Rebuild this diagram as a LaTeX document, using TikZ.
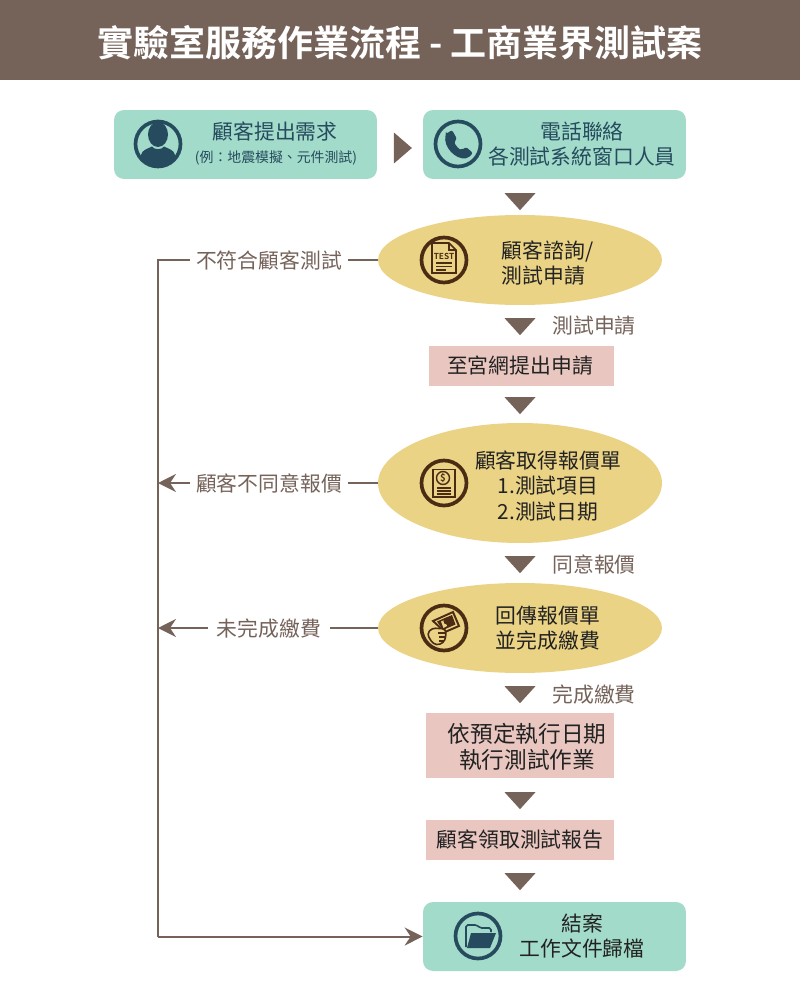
\documentclass[tikz,border=0pt]{standalone}
\usepackage{fontspec}
\setmainfont{Noto Sans CJK TC}[BoldFont={Noto Sans CJK TC Bold}]
\usepackage{tikz}
\usetikzlibrary{shapes,arrows.meta}
\definecolor{brown1}{HTML}{75635A}
\definecolor{teal1}{HTML}{264B5E}
\definecolor{green1}{HTML}{A2DBC9}
\definecolor{yellow1}{HTML}{EBD385}
\definecolor{pink1}{HTML}{E9C7C0}
\definecolor{dark1}{HTML}{4A2C14}
\definecolor{ink1}{HTML}{222222}
\tikzset{every path/.style={>={Stealth[length=3.6mm,width=3.6mm,inset=1.2mm]}}}
\tikzset{grn/.style={rectangle,rounded corners=0.2cm,fill=green1,minimum width=5.26cm,minimum height=1.38cm,inner sep=0pt}}
\tikzset{yel/.style={ellipse,fill=yellow1,minimum width=5.68cm,inner sep=0pt}}
\tikzset{pnk/.style={rectangle,fill=pink1,inner sep=0pt}}
\tikzset{txt/.style={align=center,inner sep=0pt,font=\fontsize{11.85}{14.4}\selectfont,text=ink1}}
\tikzset{lab/.style={inner xsep=3.4pt,inner ysep=0pt,text height=10.2pt,text depth=0pt,font=\fontsize{11.85}{14}\selectfont,text=brown1}}
\tikzset{tri/.style={isosceles triangle,isosceles triangle stretches,shape border rotate=-90,fill=brown1,inner sep=0pt,minimum width=0.62cm,minimum height=0.34cm}}
\tikzset{ring/.style={circle,draw=#1,line width=2.1pt,minimum size=0.9cm,inner sep=0pt}}
\tikzset{rline/.style={draw=brown1,line width=1.15pt}}
\begin{document}
\begin{tikzpicture}[x=0.02cm,y=-0.02cm]
\useasboundingbox (0,0) rectangle (800,1000);
% title
\node[rectangle,fill=brown1,minimum width=16cm,minimum height=1.6cm,inner sep=0pt,text=white,text height=19pt,text depth=0pt,font=\bfseries\fontsize{20.5}{24}\selectfont](title) at (400,40) {實驗室服務作業流程 - 工商業界測試案};

\node[grn](need) at (245.5,144.5) {};
\node[grn](phone) at (554.5,144.5) {};
\node[tri,shape border rotate=0,minimum width=0.62cm,minimum height=0.36cm](t0) at (401,148) {};
\node[tri](t1) at (520,200) {};
\node[yel,minimum height=1.8cm](ask) at (520,260) {};
\node[tri](t2) at (520,325) {};
\node[pnk,minimum width=3.7cm,minimum height=0.8cm](apply) at (521.5,366) {};
\node[tri](t3) at (520,404) {};
\node[yel,minimum height=2.4cm](quote) at (520,483) {};
\node[tri](t4) at (520,563) {};
\node[yel,minimum height=1.8cm](pay) at (520,628) {};
\node[tri](t5) at (520,693) {};
\node[pnk,minimum width=3.76cm,minimum height=1.3cm](run) at (520,745.5) {};
\node[tri](t6) at (520,799) {};
\node[pnk,minimum width=3.76cm,minimum height=0.8cm](report) at (520,840) {};
\node[tri](t7) at (520,880) {};
\node[grn](done) at (554.5,936.5) {};

% texts
\node[txt,text=teal1](needt) at (275,132) {顧客提出需求};
\node[txt,text=teal1,font=\fontsize{7.9}{9}\selectfont](needs) at (276,158) {(例：地震模擬、元件測試)};
\node[txt,text=teal1](phonet) at (582,144) {電話聯絡\\各測試系統窗口人員};
\node[txt,align=left](askt) at (547.5,263) {顧客諮詢/\\測試申請};
\node[txt](applyt) at (520,366) {至宮網提出申請};
\node[txt](quotet) at (548,486) {顧客取得報價單\\1.測試項目\\2.測試日期};
\node[txt](payt) at (548,628) {回傳報價單\\並完成繳費};
\node[txt,font=\fontsize{12.9}{14.4}\selectfont](runt) at (527,747) {依預定執行日期\\執行測試作業};
\node[txt](reportt) at (520,840) {顧客領取測試報告};
\node[txt](donet) at (582,936) {結案\\工作文件歸檔};
\node[lab](yes1) at (594,325) {測試申請};
\node[lab](yes2) at (594,564) {同意報價};
\node[lab](yes3) at (594,694) {完成繳費};
\node[lab](no1) at (269,260) {不符合顧客測試};
\node[lab](no2) at (269,483) {顧客不同意報價};
\node[lab,inner xsep=5pt](no3) at (269,628) {未完成繳費};

% return line
\coordinate(c1) at (158,260);
\coordinate(c2) at (158,483);
\coordinate(c3) at (158,628);
\coordinate(c4) at (158,936.5);
\draw[rline] (ask) -- (no1);
\draw[rline] (no1) -- (c1) -- (c4);
\draw[rline,->] (c4) -- (done.west);
\draw[rline] (quote) -- (no2);
\draw[rline,->] (no2) -- (c2);
\draw[rline] (pay) -- (no3);
\draw[rline,->] (no3) -- (c3);

% person icon
\node[ring=teal1](iconneed) at (158,144) {};
\fill[teal1] (158,134.5) ellipse (10 and 12.5);
\fill[teal1] (140,157) -- (141,155) .. controls (142,150) and (147,149) .. (152,146.5) .. controls (154,150) and (162,150) .. (164,146.5) .. controls (169,149) and (174,150) .. (175,155) -- (176,157) .. controls (170,168) and (146,168) .. (140,157) -- cycle;
% phone icon
\node[ring=teal1](iconphone) at (458,144) {};
\fill[teal1,rounded corners=1.2pt] (446,134) -- (452,130) -- (457,139) -- (454,142) .. controls (456,146) and (459,149) .. (462,150) -- (466,147) -- (473,153) -- (468,158) .. controls (455,160) and (443,146) .. (446,134) -- cycle;
% test icon
\node[ring=dark1](iconask) at (444,260) {};
\draw[dark1,line width=0.9pt] (432,243) -- (449,243) -- (456,250) -- (456,273) -- (432,273) -- cycle;
\draw[dark1,line width=0.7pt] (449,243) -- (449,250) -- (456,250);
\node[inner sep=0pt,text=dark1,font=\bfseries\fontsize{4.7}{5}\selectfont](testt) at (444,256.5) {TEST};
\draw[dark1,line width=0.9pt] (436,263) -- (452,263);
\draw[dark1,line width=0.9pt] (436,266.5) -- (452,266.5);
\draw[dark1,line width=0.9pt] (436,270) -- (446,270);
% quote icon
\node[ring=dark1](iconquote) at (444,483) {};
\draw[dark1,line width=0.9pt] (433,469.5) rectangle (455,497);
\draw[dark1,line width=0.8pt] (443,478) circle (6.5);
\node[inner sep=0pt,text=dark1,font=\bfseries\fontsize{5.5}{6}\selectfont](dollar) at (443,478) {\$};
\draw[dark1,line width=0.7pt] (437,488) -- (451,488);
\draw[dark1,line width=0.7pt] (437,491) -- (451,491);
\draw[dark1,line width=0.7pt] (437,494) -- (451,494);
% pay icon
\node[ring=dark1](iconpay) at (444,628) {};
\draw[dark1,line width=1.1pt,fill=yellow1] (433,621) -- (453,612) -- (459,626) -- (445,632) -- cycle;
\fill[dark1] (437,621.5) -- (452,615) -- (455.5,624.5) -- (443,630) -- cycle;
\fill[yellow1] (441,621.5) -- (445,619.8) -- (447,626) -- (443.5,628) -- cycle;
\fill[dark1] (447,621) circle (3.6);
\draw[dark1,line width=0.9pt,fill=yellow1,rounded corners=2pt] (427,634) -- (432,628) -- (446,629) -- (445.5,640) -- (440,645) -- (433,644) -- cycle;
\draw[dark1,line width=0.7pt] (438,633) -- (446,633);
\draw[dark1,line width=0.7pt] (439,637) -- (446,637);
\draw[dark1,line width=0.7pt] (439,641) -- (444,641);
% folder icon
\node[ring=teal1](icondone) at (478,936) {};
\draw[teal1,line width=0.9pt,rounded corners=1pt] (466,947) -- (466,925) -- (477,925) -- (480,928) -- (491,928) -- (491,932);
\fill[teal1] (471,933) -- (496,933) -- (490,948) -- (467,948) -- cycle;
\end{tikzpicture}
\end{document}
